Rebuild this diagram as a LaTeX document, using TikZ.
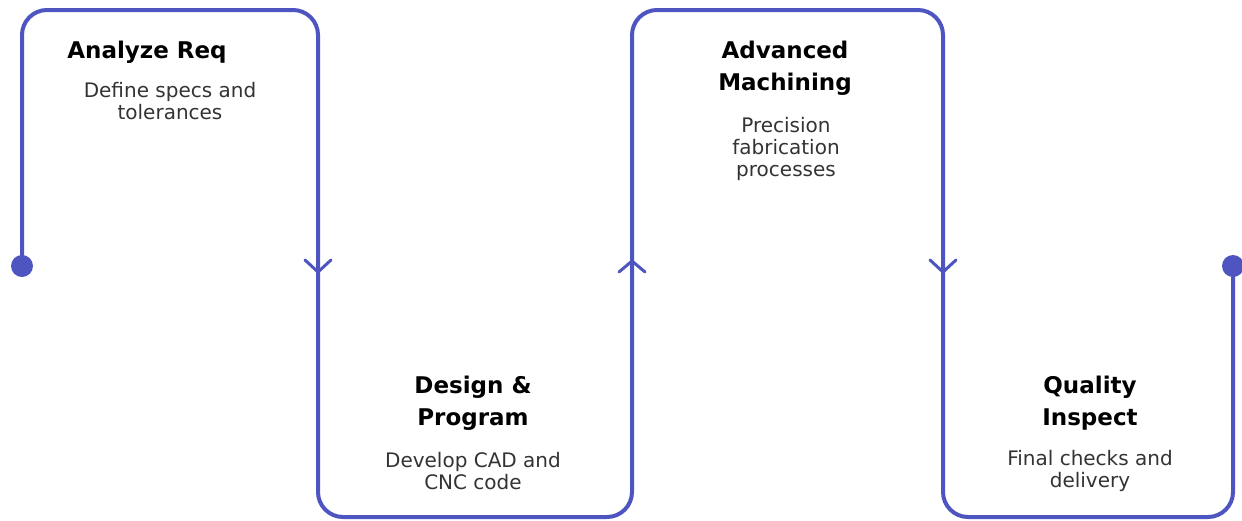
\documentclass[tikz,border=0pt]{standalone}
\usepackage{fontspec}
\setmainfont{DejaVu Sans}
\definecolor{flowblue}{RGB}{78,84,192}
\definecolor{desctext}{RGB}{51,51,51}
\tikzset{
  flow/.style={draw=flowblue, line width=4pt, rounded corners=25pt},
  chevron/.style={draw=flowblue, line width=3pt, line cap=round, line join=round},
  title/.style={font=\fontsize{23}{32}\selectfont\bfseries, align=center, text=black, inner sep=0pt},
  desc/.style={font=\fontsize{20}{22}\selectfont, align=center, text=desctext, inner sep=0pt},
}
\begin{document}
\begin{tikzpicture}[x=1pt,y=-1pt]
  \useasboundingbox (0,0) rectangle (1242,520);
  % path points
  \coordinate (start) at (22,266);
  \coordinate (c1) at (22,10);
  \coordinate (c2) at (318,10);
  \coordinate (c3) at (318,517);
  \coordinate (c4) at (632,517);
  \coordinate (c5) at (632,10);
  \coordinate (c6) at (943,10);
  \coordinate (c7) at (943,517);
  \coordinate (c8) at (1233,517);
  \coordinate (end) at (1233,266);
  \draw[flow] (start) -- (c1) -- (c2) -- (c3) -- (c4) -- (c5) -- (c6) -- (c7) -- (c8) -- (end);
  \fill[flowblue] (start) circle (11pt);
  \fill[flowblue] (end) circle (11pt);
  % direction marks
  \coordinate (down1) at (318,272);
  \coordinate (up1) at (632,261);
  \coordinate (down2) at (943,272);
  \draw[chevron] ([shift={(-13,-12)}]down1) -- (down1) -- ([shift={(13,-12)}]down1);
  \draw[chevron] ([shift={(-13,11)}]up1) -- (up1) -- ([shift={(13,11)}]up1);
  \draw[chevron] ([shift={(-13,-12)}]down2) -- (down2) -- ([shift={(13,-12)}]down2);
  % steps
  \node[title] (req) at (147,52) {Analyze Req};
  \node[desc] (reqd) at (170,101) {Define specs and\\tolerances};
  \node[title] (mach) at (785,68) {Advanced\\Machining};
  \node[desc] (machd) at (786,149) {Precision\\fabrication\\processes};
  \node[title] (prog) at (473,403) {Design \&\\Program};
  \node[desc] (progd) at (473,471) {Develop CAD and\\CNC code};
  \node[title] (insp) at (1090,403) {Quality\\Inspect};
  \node[desc] (inspd) at (1090,471) {Final checks and\\delivery};
\end{tikzpicture}
\end{document}
